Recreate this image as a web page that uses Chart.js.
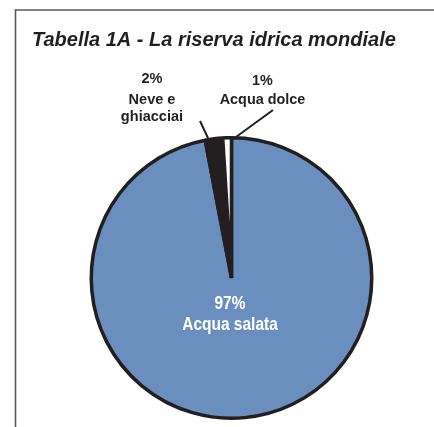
<!DOCTYPE html>
<html>
<head>
<meta charset="utf-8">
<script src="https://cdn.jsdelivr.net/npm/chart.js@4/dist/chart.umd.min.js"></script>
<style>
  html, body { margin: 0; padding: 0; background: #ffffff; }
  #wrap { position: relative; width: 434px; height: 427px; }
</style>
</head>
<body>
<div id="wrap"><canvas id="c" width="434" height="427"></canvas></div>
<script>
// ---- data ----
const chartTitle = 'Tabella 1A - La riserva idrica mondiale';
const categories = ['Acqua salata', 'Neve e ghiacciai', 'Acqua dolce'];
const categoryLines = [['Acqua salata'], ['Neve e', 'ghiacciai'], ['Acqua dolce']];
const values = [97, 2, 1];
const sliceColors = ['#6a8fbe', '#231f20', '#ffffff'];

const TEXT = '#231f20';

function condensedText(ctx, text, x, y, sx) {
  ctx.save();
  ctx.translate(x, y);
  ctx.scale(sx, 1);
  ctx.fillText(text, 0, 0);
  ctx.restore();
}

const annotate = {
  id: 'annotate',
  afterDraw(chart) {
    const ctx = chart.ctx;
    const arc = chart.getDatasetMeta(0).data[0];
    const cx = arc.x, cy = arc.y;
    ctx.save();
    // frame
    ctx.strokeStyle = '#58595b';
    ctx.lineWidth = 1.6;
    ctx.beginPath();
    ctx.moveTo(15.5, 427);
    ctx.lineTo(15.5, 10);
    ctx.lineTo(434, 10);
    ctx.stroke();
    // title
    ctx.fillStyle = TEXT;
    ctx.font = 'italic bold 20px "Liberation Sans", Arial, sans-serif';
    ctx.textAlign = 'left';
    ctx.textBaseline = 'alphabetic';
    ctx.fillText(chartTitle, 32, 46);

    ctx.textAlign = 'center';
    // inside label (Acqua salata)
    ctx.font = 'bold 18px "Liberation Sans", Arial, sans-serif';
    ctx.fillStyle = '#ffffff';
    const inLines = [values[0] + '%'].concat(categoryLines[0]);
    inLines.forEach((t, i) => condensedText(ctx, t, cx - 1.5, cy + 31 + i * 21, 0.86));
    // outside labels
    ctx.font = 'bold 15px "Liberation Sans", Arial, sans-serif';
    ctx.fillStyle = TEXT;
    const l1 = [values[1] + '%'].concat(categoryLines[1]);
    const b1 = [83, 104, 121];
    l1.forEach((t, i) => condensedText(ctx, t, cx - 79.5, cy - 278 + b1[i], 0.97));
    const l2 = [values[2] + '%'].concat(categoryLines[2]);
    const b2 = [85, 104];
    l2.forEach((t, i) => condensedText(ctx, t, cx + 31, cy - 278 + b2[i], 0.96));
    // leader lines
    ctx.strokeStyle = TEXT;
    ctx.lineWidth = 2;
    ctx.beginPath();
    ctx.moveTo(cx - 31.5, cy - 157);
    ctx.lineTo(cx - 23.5, cy - 140);
    ctx.moveTo(cx + 41.5, cy - 168);
    ctx.lineTo(cx + 4.5, cy - 141);
    ctx.stroke();
    ctx.restore();
  }
};

new Chart(document.getElementById('c'), {
  type: 'pie',
  data: {
    labels: categories,
    datasets: [{
      data: values,
      backgroundColor: sliceColors,
      borderColor: '#231f20',
      borderWidth: 3.5
    }]
  },
  options: {
    responsive: false,
    animation: false,
    layout: { padding: { top: 136, bottom: 7, left: 89.5, right: 60.5 } },
    plugins: {
      legend: { display: false },
      tooltip: { enabled: false },
      title: { display: false }
    }
  },
  plugins: [annotate]
});
</script>
</body>
</html>
